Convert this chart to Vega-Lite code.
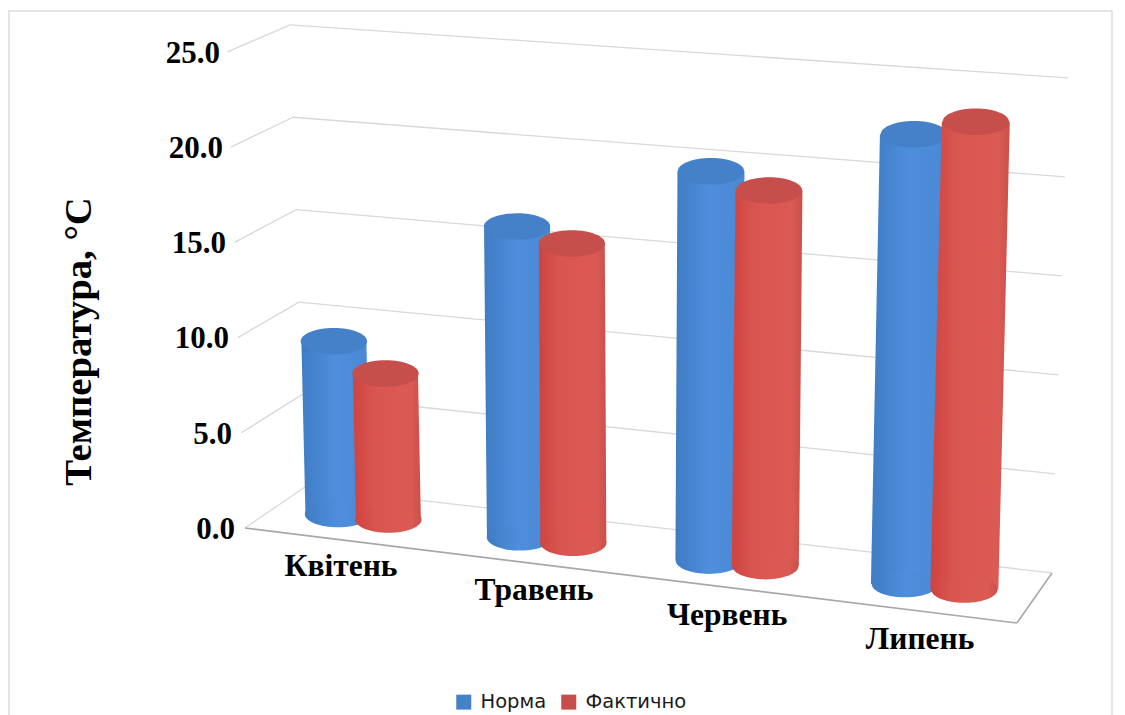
{
  "$schema": "https://vega.github.io/schema/vega-lite/v6.json",
  "width": 1103,
  "height": 710,
  "autosize": "none",
  "padding": {"left": 9, "top": 11, "right": 13, "bottom": 0},
  "background": "#ffffff",
  "view": {"stroke": "#dcdcdc", "strokeWidth": 1.5},
  "datasets": {
    "temps": [
      {"month": "Квітень", "series": "Норма", "value": 9.0},
      {"month": "Квітень", "series": "Фактично", "value": 7.6},
      {"month": "Травень", "series": "Норма", "value": 16.0},
      {"month": "Травень", "series": "Фактично", "value": 15.4},
      {"month": "Червень", "series": "Норма", "value": 19.8},
      {"month": "Червень", "series": "Фактично", "value": 19.1},
      {"month": "Липень", "series": "Норма", "value": 22.6},
      {"month": "Липень", "series": "Фактично", "value": 23.5}
    ],
    "levels": [{"v": 0}, {"v": 5}, {"v": 10}, {"v": 15}, {"v": 20}, {"v": 25}]
  },
  "layer": [
    {
      "data": {"name": "levels"},
      "transform": [
        {"calculate": "-0.459-0.00365*datum.v", "as": "frontX"},
        {"calculate": "-0.146-0.00313*datum.v", "as": "cornerX"},
        {"calculate": "2.15+0.971*datum.v", "as": "cornerY"}
      ],
      "mark": {"type": "rule", "stroke": "#d8d8d8", "strokeWidth": 1.3},
      "encoding": {
        "x": {"field": "frontX", "type": "quantitative", "axis": null, "scale": {"domain": [-1.69, 4.064], "nice": false, "zero": false}},
        "x2": {"field": "cornerX"},
        "y": {
          "field": "v",
          "type": "quantitative",
          "scale": {"domain": [-10.136, 27.15], "nice": false, "zero": false},
          "axis": {
            "orient": "left",
            "offset": -211,
            "values": [0, 5, 10, 15, 20, 25],
            "domain": false,
            "ticks": false,
            "grid": false,
            "labels": false,
            "title": "Температура, °C",
            "titleFont": "Liberation Serif",
            "titleFontWeight": "bold",
            "titleFontSize": 38.7,
            "titleColor": "#000000",
            "titleAngle": -90,
            "titleX": -122,
            "titleY": 330
          }
        },
        "y2": {"field": "cornerY"}
      }
    },
    {
      "data": {"name": "levels"},
      "transform": [
        {"calculate": "-0.146-0.00313*datum.v", "as": "cornerX"},
        {"calculate": "3.751+0.00334*datum.v", "as": "backX"},
        {"calculate": "2.15+0.971*datum.v", "as": "cornerY"},
        {"calculate": "-2.36+1.04*datum.v", "as": "backY"}
      ],
      "mark": {"type": "rule", "stroke": "#d8d8d8", "strokeWidth": 1.3},
      "encoding": {
        "x": {"field": "cornerX", "type": "quantitative", "axis": null},
        "x2": {"field": "backX"},
        "y": {"field": "cornerY", "type": "quantitative"},
        "y2": {"field": "backY"}
      }
    },
    {
      "data": {"name": "levels"},
      "transform": [
        {"calculate": "-0.511-0.00313*datum.v", "as": "labelX"},
        {"calculate": "datum.v-0.1", "as": "labelY"},
        {"calculate": "format(datum.v,'.1f')", "as": "label"}
      ],
      "mark": {"type": "text", "font": "Liberation Serif", "fontWeight": "bold", "fontSize": 31, "color": "#000000", "align": "right", "baseline": "middle"},
      "encoding": {
        "x": {"field": "labelX", "type": "quantitative", "axis": null},
        "y": {"field": "labelY", "type": "quantitative"},
        "text": {"field": "label"}
      }
    },
    {
      "data": {"values": [{"x0": -0.459, "y0": 0, "x1": 3.568, "y1": -4.99}, {"x0": 3.568, "y0": -4.99, "x1": 3.751, "y1": -2.36}]},
      "mark": {"type": "rule", "stroke": "#a8a8a8", "strokeWidth": 1.6},
      "encoding": {
        "x": {"field": "x0", "type": "quantitative", "axis": null},
        "x2": {"field": "x1"},
        "y": {"field": "y0", "type": "quantitative"},
        "y2": {"field": "y1"}
      }
    },
    {
      "data": {"name": "temps"},
      "transform": [
        {"calculate": "indexof(['Квітень','Травень','Червень','Липень'],datum.month)", "as": "i"},
        {"calculate": "datum.series==='Фактично'?1:0", "as": "s"},
        {"calculate": "0.026+0.931*datum.i+0.0183*datum.i*datum.i+datum.s*(0.263+0.0157*datum.i)", "as": "baseX"},
        {"calculate": "datum.baseX+(datum.baseX-1.6)*0.0015*datum.value", "as": "topX"},
        {"calculate": "0.735-1.224*datum.i-0.289*datum.s", "as": "baseY"},
        {"calculate": "datum.baseY+datum.value*(1.008+0.0123*datum.i)", "as": "topY"},
        {"calculate": "0.1695+0.0026*datum.i", "as": "halfWidth"}
      ],
      "layer": [
        {
          "transform": [
            {"filter": "datum.s===0"},
            {"fold": ["baseY", "topY"], "as": ["edge", "edgeY"]},
            {"calculate": "(datum.edge==='topY'?datum.topX:datum.baseX)-datum.halfWidth", "as": "left"},
            {"calculate": "(datum.edge==='topY'?datum.topX:datum.baseX)+datum.halfWidth", "as": "right"}
          ],
          "mark": {
            "type": "area",
            "orient": "horizontal",
            "fill": {"gradient": "linear", "x1": 0, "x2": 1, "y1": 0, "y2": 0, "stops": [
              {"offset": 0, "color": "#3f7cc4"},
              {"offset": 0.5, "color": "#4e8edc"},
              {"offset": 1, "color": "#4a88d4"}
            ]}
          },
          "encoding": {
            "x": {"field": "left", "type": "quantitative", "axis": null},
            "x2": {"field": "right"},
            "y": {"field": "edgeY", "type": "quantitative"},
            "detail": {"field": "month"}
          }
        },
        {
          "transform": [{"filter": "datum.s===0"}],
          "mark": {
            "type": "point", "filled": true, "opacity": 1, "size": 4400,
            "shape": "M-1,0A1,0.4,0,1,1,1,0A1,0.4,0,1,1,-1,0Z",
            "fill": {"gradient": "linear", "x1": 0, "x2": 1, "y1": 0, "y2": 0, "stops": [
              {"offset": 0, "color": "#3f7cc4"},
              {"offset": 0.5, "color": "#4e8edc"},
              {"offset": 1, "color": "#4a88d4"}
            ]}
          },
          "encoding": {
            "x": {"field": "baseX", "type": "quantitative", "axis": null},
            "y": {"field": "baseY", "type": "quantitative"}
          }
        },
        {
          "transform": [{"filter": "datum.s===0"}],
          "mark": {"type": "point", "filled": true, "opacity": 1, "size": 4400, "shape": "M-1,0A1,0.4,0,1,1,1,0A1,0.4,0,1,1,-1,0Z"},
          "encoding": {
            "x": {"field": "topX", "type": "quantitative", "axis": null},
            "y": {"field": "topY", "type": "quantitative"},
            "color": {
              "field": "series",
              "type": "nominal",
              "scale": {"domain": ["Норма", "Фактично"], "range": ["#4581c8", "#c64f4c"]},
              "legend": {
                "orient": "none",
                "direction": "horizontal",
                "legendX": 445,
                "legendY": 681,
                "title": null,
                "symbolType": "square",
                "symbolSize": 225,
                "symbolOpacity": 1,
                "labelOffset": 7,
                "columnPadding": 12,
                "labelFont": "DejaVu Sans",
                "labelFontSize": 19.5,
                "labelColor": "#1a1a1a"
              }
            }
          }
        },
        {
          "transform": [
            {"filter": "datum.s===1"},
            {"fold": ["baseY", "topY"], "as": ["edge", "edgeY"]},
            {"calculate": "(datum.edge==='topY'?datum.topX:datum.baseX)-datum.halfWidth", "as": "left"},
            {"calculate": "(datum.edge==='topY'?datum.topX:datum.baseX)+datum.halfWidth", "as": "right"}
          ],
          "mark": {
            "type": "area",
            "orient": "horizontal",
            "fill": {"gradient": "linear", "x1": 0, "x2": 1, "y1": 0, "y2": 0, "stops": [
              {"offset": 0, "color": "#cf4340"},
              {"offset": 0.3, "color": "#d95550"},
              {"offset": 0.85, "color": "#dc5a54"},
              {"offset": 1, "color": "#c9504b"}
            ]}
          },
          "encoding": {
            "x": {"field": "left", "type": "quantitative", "axis": null},
            "x2": {"field": "right"},
            "y": {"field": "edgeY", "type": "quantitative"},
            "detail": {"field": "month"}
          }
        },
        {
          "transform": [{"filter": "datum.s===1"}],
          "mark": {
            "type": "point", "filled": true, "opacity": 1, "size": 4400,
            "shape": "M-1,0A1,0.4,0,1,1,1,0A1,0.4,0,1,1,-1,0Z",
            "fill": {"gradient": "linear", "x1": 0, "x2": 1, "y1": 0, "y2": 0, "stops": [
              {"offset": 0, "color": "#cf4340"},
              {"offset": 0.3, "color": "#d95550"},
              {"offset": 0.85, "color": "#dc5a54"},
              {"offset": 1, "color": "#c9504b"}
            ]}
          },
          "encoding": {
            "x": {"field": "baseX", "type": "quantitative", "axis": null},
            "y": {"field": "baseY", "type": "quantitative"}
          }
        },
        {
          "transform": [{"filter": "datum.s===1"}],
          "mark": {"type": "point", "filled": true, "opacity": 1, "size": 4400, "shape": "M-1,0A1,0.4,0,1,1,1,0A1,0.4,0,1,1,-1,0Z"},
          "encoding": {
            "x": {"field": "topX", "type": "quantitative", "axis": null},
            "y": {"field": "topY", "type": "quantitative"},
            "color": {"field": "series", "type": "nominal"}
          }
        },
        {
          "transform": [
            {"filter": "datum.s===0"},
            {"calculate": "0.042+1.007*datum.i", "as": "labelX"},
            {"calculate": "-2.05-1.285*datum.i", "as": "labelY"}
          ],
          "mark": {"type": "text", "font": "Liberation Serif", "fontWeight": "bold", "fontSize": 31.5, "color": "#000000", "align": "center", "baseline": "middle"},
          "encoding": {
            "x": {"field": "labelX", "type": "quantitative", "axis": null},
            "y": {"field": "labelY", "type": "quantitative"},
            "text": {"field": "month"}
          }
        }
      ]
    }
  ]
}
